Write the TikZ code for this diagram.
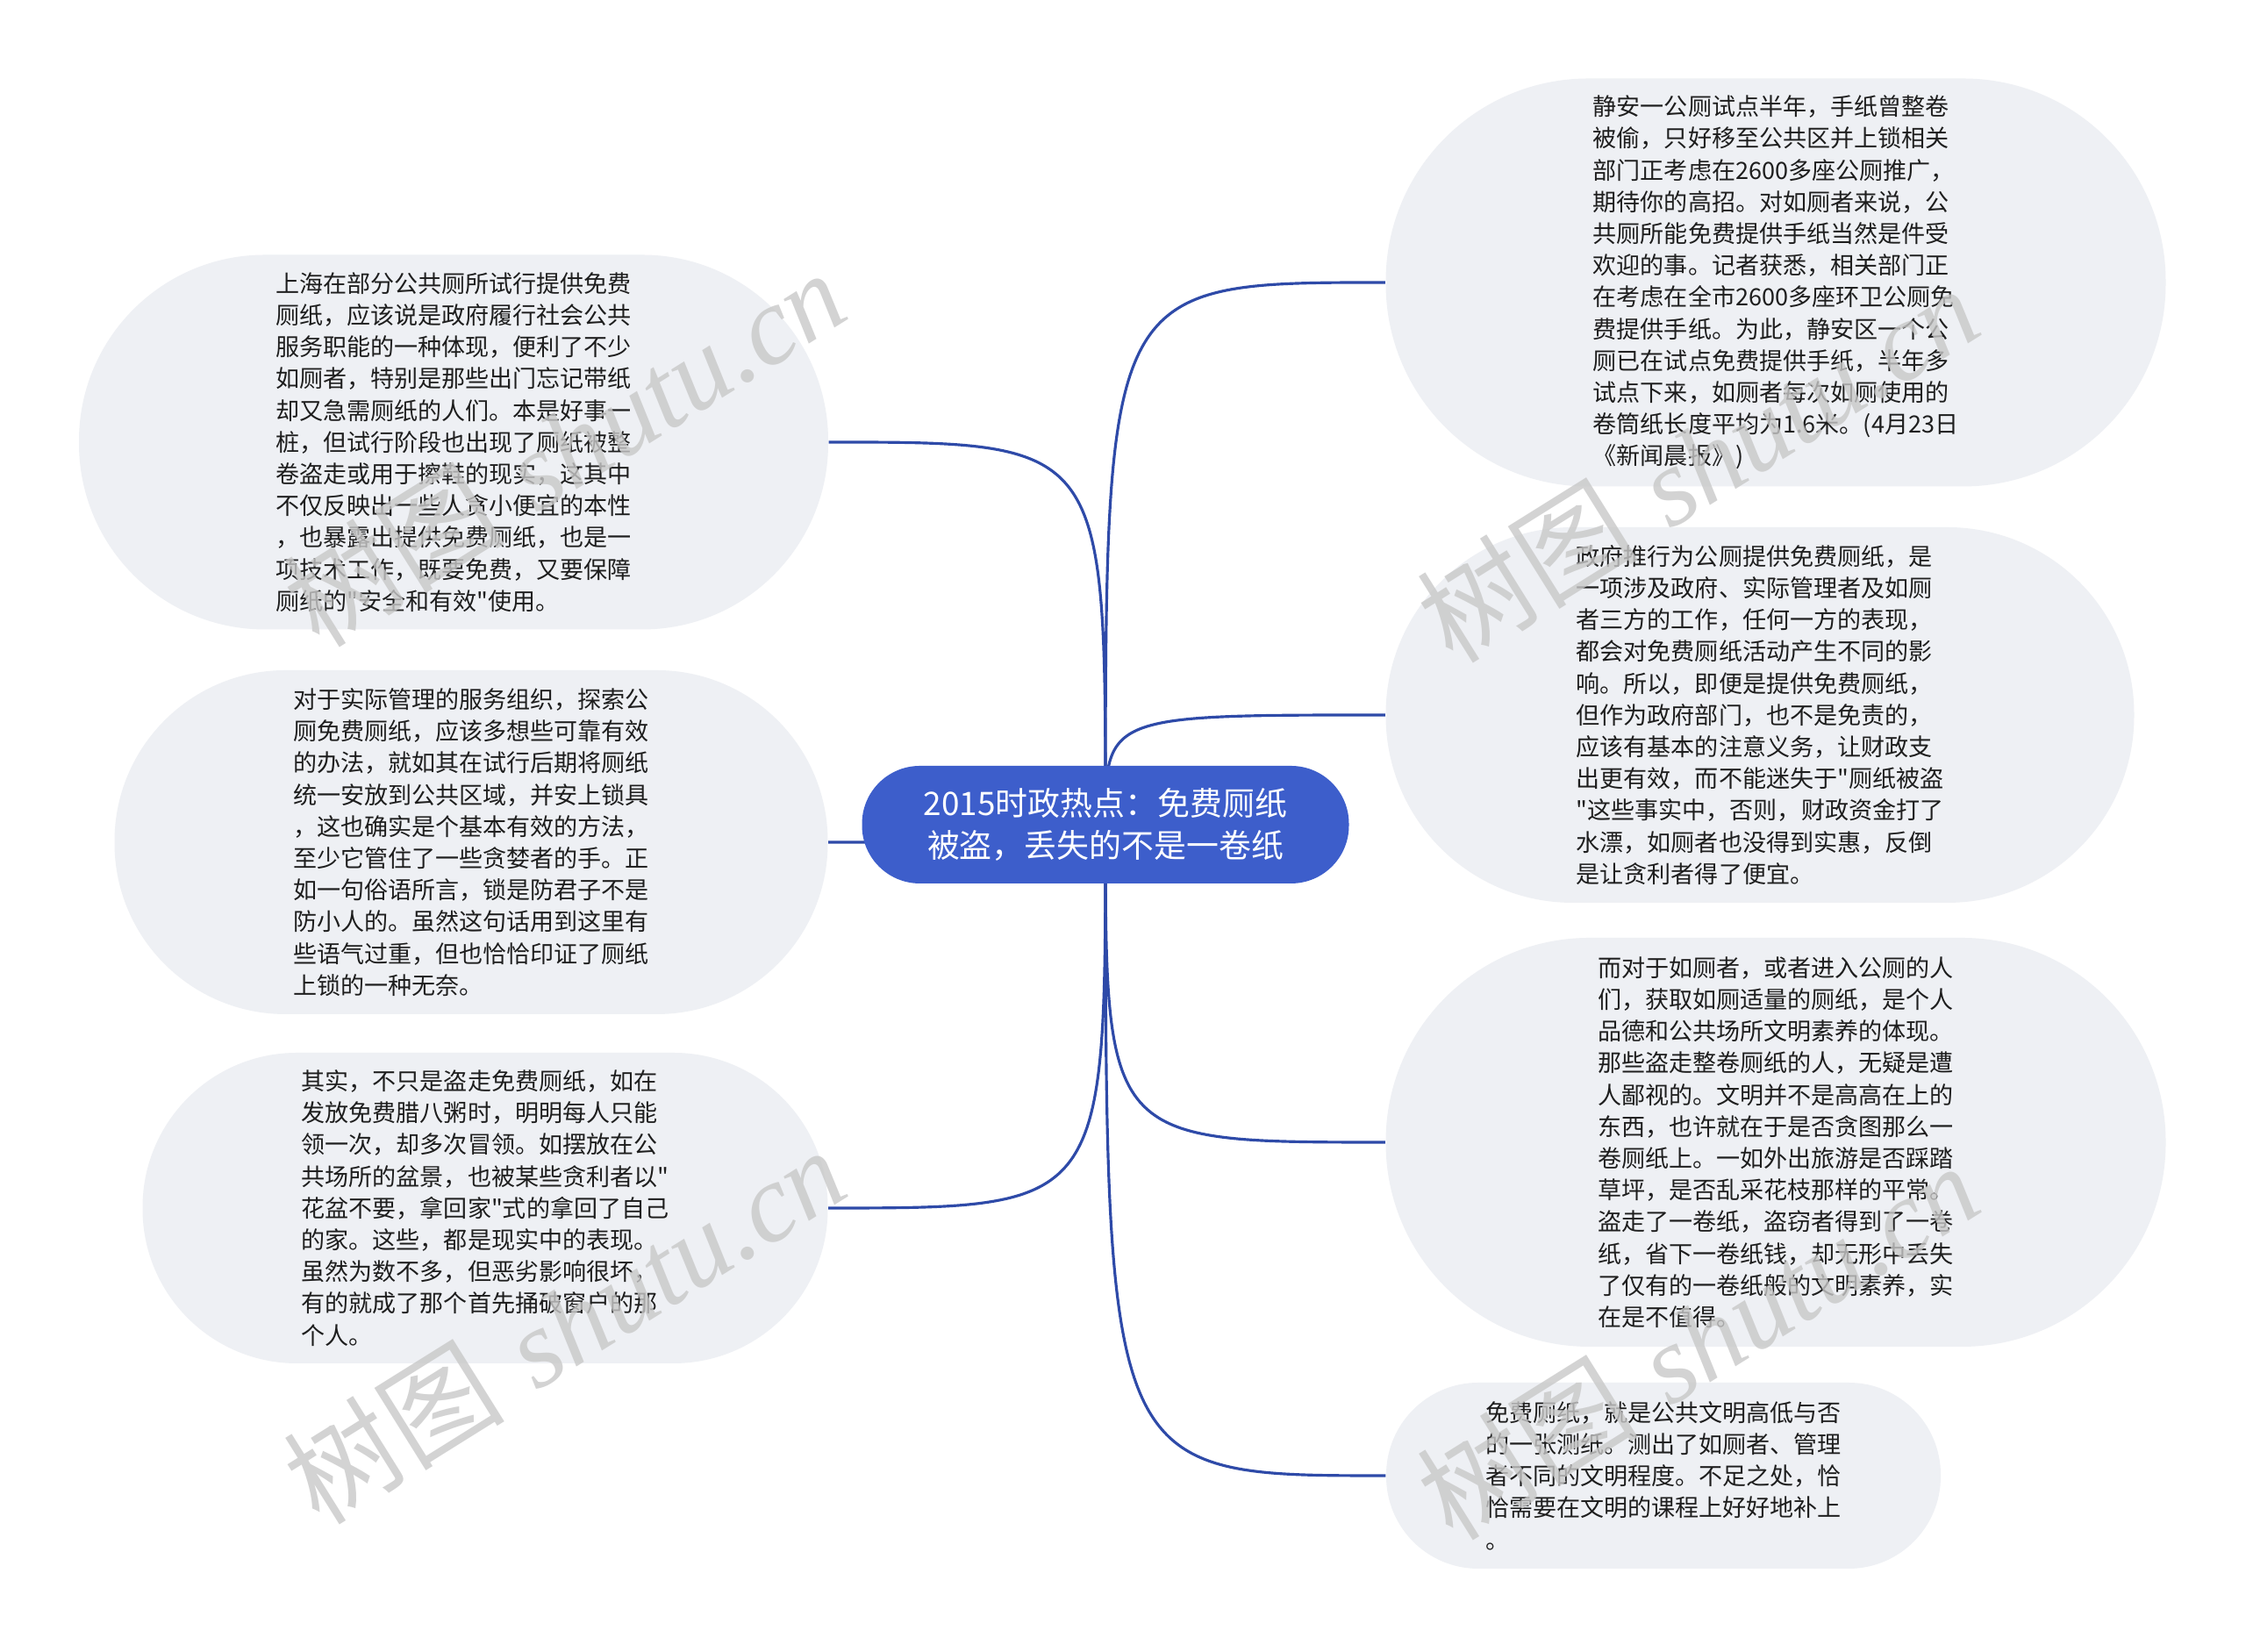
\documentclass[tikz,border=0pt]{standalone}
\usepackage{fontspec}
\newfontfamily\cjkfont{Noto Sans CJK SC}
\newfontfamily\markfont{Liberation Serif}
\usetikzlibrary{positioning}
\definecolor{rootblue}{RGB}{61,94,203}
\definecolor{linkblue}{RGB}{46,74,168}
\definecolor{leafgray}{RGB}{238,240,244}
\definecolor{inkdark}{RGB}{30,30,30}
\definecolor{markgray}{RGB}{200,200,200}
\tikzset{
  leaf/.style={fill=leafgray,text=inkdark,align=left,inner sep=0pt,
    font=\cjkfont\fontsize{7.7pt}{10.3pt}\selectfont},
  rootbox/.style={fill=rootblue,text=white,align=center,inner sep=0pt,
    font=\cjkfont\fontsize{10.5pt}{13.9pt}\selectfont},
  branch/.style={linkblue,line width=0.9pt},
  wmark/.style={text=markgray,text opacity=0.8,rotate=32,inner sep=0pt,
    font=\fontsize{36pt}{40pt}\selectfont}
}

\begin{document}
\begin{tikzpicture}
\fill[white] (0,0) rectangle (25.6,18.83);
\useasboundingbox (0,0) rectangle (25.6,18.83);
\coordinate (hub) at (12.60,9.43);

\node[leaf,minimum width=8.54cm,minimum height=4.27cm,rounded corners=2.12cm] (n1) at (5.17,13.79) {上海在部分公共厕所试行提供免费\\厕纸，应该说是政府履行社会公共\\服务职能的一种体现，便利了不少\\如厕者，特别是那些出门忘记带纸\\却又急需厕纸的人们。本是好事一\\桩，但试行阶段也出现了厕纸被整\\卷盗走或用于擦鞋的现实，这其中\\不仅反映出一些人贪小便宜的本性\\，也暴露出提供免费厕纸，也是一\\项技术工作，既要免费，又要保障\\厕纸的"安全和有效"使用。};
\node[leaf,minimum width=8.13cm,minimum height=3.92cm,rounded corners=1.95cm] (n2) at (5.37,9.23) {对于实际管理的服务组织，探索公\\厕免费厕纸，应该多想些可靠有效\\的办法，就如其在试行后期将厕纸\\统一安放到公共区域，并安上锁具\\，这也确实是个基本有效的方法，\\至少它管住了一些贪婪者的手。正\\如一句俗语所言，锁是防君子不是\\防小人的。虽然这句话用到这里有\\些语气过重，但也恰恰印证了厕纸\\上锁的一种无奈。};
\node[leaf,minimum width=7.81cm,minimum height=3.54cm,rounded corners=1.76cm] (n3) at (5.53,5.06) {其实，不只是盗走免费厕纸，如在\\发放免费腊八粥时，明明每人只能\\领一次，却多次冒领。如摆放在公\\共场所的盆景，也被某些贪利者以"\\花盆不要，拿回家"式的拿回了自己\\的家。这些，都是现实中的表现。\\虽然为数不多，但恶劣影响很坏，\\有的就成了那个首先捅破窗户的那\\个人。};
\node[leaf,minimum width=8.89cm,minimum height=4.65cm,rounded corners=2.31cm] (n4) at (20.24,15.61) {静安一公厕试点半年，手纸曾整卷\\被偷，只好移至公共区并上锁相关\\部门正考虑在2600多座公厕推广，\\期待你的高招。对如厕者来说，公\\共厕所能免费提供手纸当然是件受\\欢迎的事。记者获悉，相关部门正\\在考虑在全市2600多座环卫公厕免\\费提供手纸。为此，静安区一个公\\厕已在试点免费提供手纸，半年多\\试点下来，如厕者每次如厕使用的\\卷筒纸长度平均为1.6米。(4月23日\\《新闻晨报》)};
\node[leaf,minimum width=8.53cm,minimum height=4.28cm,rounded corners=2.13cm] (n5) at (20.06,10.68) {政府推行为公厕提供免费厕纸，是\\一项涉及政府、实际管理者及如厕\\者三方的工作，任何一方的表现，\\都会对免费厕纸活动产生不同的影\\响。所以，即便是提供免费厕纸，\\但作为政府部门，也不是免责的，\\应该有基本的注意义务，让财政支\\出更有效，而不能迷失于"厕纸被盗\\"这些事实中，否则，财政资金打了\\水漂，如厕者也没得到实惠，反倒\\是让贪利者得了便宜。};
\node[leaf,minimum width=8.89cm,minimum height=4.66cm,rounded corners=2.32cm] (n6) at (20.24,5.81) {而对于如厕者，或者进入公厕的人\\们，获取如厕适量的厕纸，是个人\\品德和公共场所文明素养的体现。\\那些盗走整卷厕纸的人，无疑是遭\\人鄙视的。文明并不是高高在上的\\东西，也许就在于是否贪图那么一\\卷厕纸上。一如外出旅游是否踩踏\\草坪，是否乱采花枝那样的平常。\\盗走了一卷纸，盗窃者得到了一卷\\纸，省下一卷纸钱，却无形中丢失\\了仅有的一卷纸般的文明素养，实\\在是不值得。};
\node[leaf,minimum width=6.32cm,minimum height=2.12cm,rounded corners=1.05cm] (n7) at (18.96,2.01) {免费厕纸，就是公共文明高低与否\\的一张测纸。测出了如厕者、管理\\者不同的文明程度。不足之处，恰\\恰需要在文明的课程上好好地补上\\。};

\foreach \n in {n1,n2,n3}{\draw[branch] (hub) .. controls (hub |- \n.east) .. (\n.east);}
\foreach \n in {n4,n5,n6,n7}{\draw[branch] (hub) .. controls (hub |- \n.west) .. (\n.west);}

\node[rootbox,minimum width=5.55cm,minimum height=1.34cm,rounded corners=0.66cm] (root) at (hub) {2015时政热点：免费厕纸\\被盗，丢失的不是一卷纸};

\node[wmark] (wm1) at (6.43,13.73) {{\cjkfont 树图} {\markfont\itshape shutu.cn}};
\node[wmark] (wm2) at (19.35,13.55) {{\cjkfont 树图} {\markfont\itshape shutu.cn}};
\node[wmark] (wm3) at (6.43,3.73) {{\cjkfont 树图} {\markfont\itshape shutu.cn}};
\node[wmark] (wm4) at (19.35,3.55) {{\cjkfont 树图} {\markfont\itshape shutu.cn}};
\end{tikzpicture}
\end{document}
